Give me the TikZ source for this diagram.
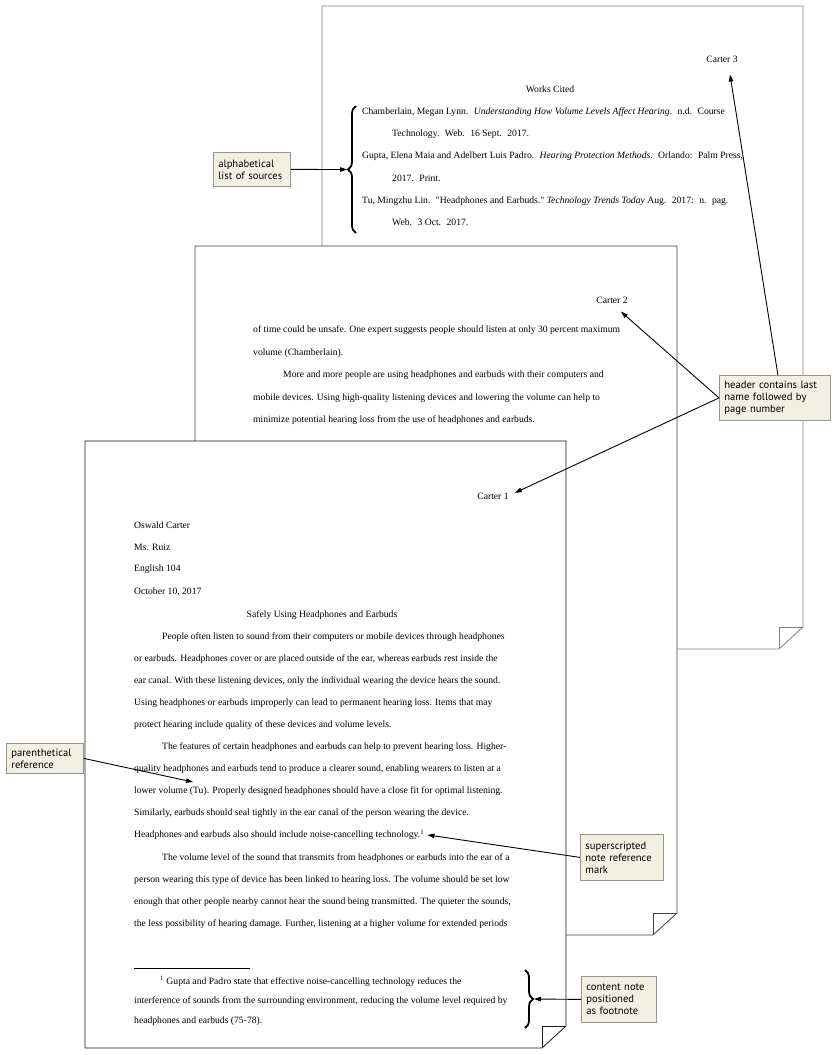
\documentclass[tikz,border=0pt]{standalone}
\usepackage{fontspec}
\setmainfont{Liberation Serif}
\newfontfamily\notefont{PT Sans}
\usetikzlibrary{arrows.meta,decorations.pathreplacing}
\definecolor{notefill}{RGB}{242,240,226}
\definecolor{noteline}{RGB}{150,150,138}
\newcommand{\docsheet}[5]{%
  \filldraw[fill=white,draw=#5,line width=0.8pt] (#1,#2) -- (#3,#2) -- (#3,#4-22) -- (#3-24,#4) -- (#1,#4) -- cycle;
  \draw[#5,line width=0.8pt] (#3,#4-22) -- (#3-24,#4-22) -- (#3-24,#4);}

\begin{document}
\begin{tikzpicture}[x=1pt,y=-1pt,
  txt/.style={font=\fontsize{9.65}{11}\selectfont,anchor=mid west,inner sep=0pt},
  entry/.style={txt,execute at begin node={\xspaceskip=5.5pt\relax}},
  note/.style={draw=noteline,fill=notefill,line width=0.8pt,anchor=north west,align=left,
    font=\notefont\fontsize{10.6}{12}\selectfont,inner xsep=5pt,inner ysep=0pt},
  arr/.style={-{Triangle[length=7pt,width=4.5pt]},line width=0.9pt},
  curly/.style={decorate,decoration={brace,amplitude=8pt},line width=1.8pt}]
\useasboundingbox (0,0) rectangle (835,1055);

\docsheet{322}{6}{803}{649}{gray}
\node[txt,anchor=mid] (c3) at (722,60) {Carter 3};
\node[txt,anchor=mid] (wc) at (550,90) {Works Cited};
\foreach \x/\t [count=\i from 0] in {
  362/{Chamberlain, Megan Lynn. \textit{Understanding How Volume Levels Affect Hearing}. n.d. Course},
  392/{Technology. Web. 16 Sept. 2017.},
  362/{Gupta, Elena Maia and Adelbert Luis Padro. \textit{Hearing Protection Methods}. Orlando: Palm Press,},
  392/{2017. Print.},
  362/{Tu, Mingzhu Lin. \textquotedbl Headphones and Earbuds.\textquotedbl\ \textit{Technology Trends Today} Aug. 2017: n. pag.},
  392/{Web. 3 Oct. 2017.}}
  \node[entry] (w\i) at (\x,112.3+22.2*\i) {\t};
\draw[curly] (356,233) -- (356,106);
\coordinate (tipw) at (347,169.5);

\docsheet{195}{246}{677}{935}{black!75}
\node[txt,anchor=mid] (c2) at (612,301) {Carter 2};
\foreach \x/\t [count=\i from 0] in {
  253/{of time could be unsafe. One expert suggests people should listen at only 30 percent maximum},
  253/{volume (Chamberlain).},
  283/{More and more people are using headphones and earbuds with their computers and},
  253/{mobile devices. Using high-quality listening devices and lowering the volume can help to},
  253/{minimize potential hearing loss from the use of headphones and earbuds.}}
  \node[txt] (p\i) at (\x,330.5+22.4*\i) {\t};

\docsheet{85}{441}{566}{1048}{black!90}
\node[txt,anchor=mid] (c1) at (493,496.7) {Carter 1};
\node[txt] (h0) at (134,526) {Oswald Carter};
\node[txt] (h1) at (134,547.7) {Ms. Ruiz};
\node[txt] (h2) at (134,569.3) {English 104};
\node[txt] (h3) at (134,591.7) {October 10, 2017};
\node[txt,anchor=mid] (ttl) at (322,615) {Safely Using Headphones and Earbuds};
\foreach \x/\t [count=\i from 0] in {
  162/{People often listen to sound from their computers or mobile devices through headphones},
  134/{or earbuds. Headphones cover or are placed outside of the ear, whereas earbuds rest inside the},
  134/{ear canal. With these listening devices, only the individual wearing the device hears the sound.},
  134/{Using headphones or earbuds improperly can lead to permanent hearing loss. Items that may},
  134/{protect hearing include quality of these devices and volume levels.},
  162/{The features of certain headphones and earbuds can help to prevent hearing loss. Higher-},
  134/{quality headphones and earbuds tend to produce a clearer sound, enabling wearers to listen at a},
  134/{lower volume (Tu). Properly designed headphones should have a close fit for optimal listening.},
  134/{Similarly, earbuds should seal tightly in the ear canal of the person wearing the device.},
  134/{Headphones and earbuds also should include noise-cancelling technology.\textsuperscript{1}},
  162/{The volume level of the sound that transmits from headphones or earbuds into the ear of a},
  134/{person wearing this type of device has been linked to hearing loss. The volume should be set low},
  134/{enough that other people nearby cannot hear the sound being transmitted. The quieter the sounds,},
  134/{the less possibility of hearing damage. Further, listening at a higher volume for extended periods}}
  \node[txt] (b\i) at (\x,636.7+22.1*\i) {\t};
\draw[line width=0.5pt] (134,968.3) -- (250,968.3);
\node[txt] (f0) at (160,982) {\textsuperscript{1} Gupta and Padro state that effective noise-cancelling technology reduces the};
\node[txt] (f1) at (134,1001.5) {interference of sounds from the surrounding environment, reducing the volume level required by};
\node[txt] (f2) at (134,1021) {headphones and earbuds (75-78).};
\draw[curly] (525,970) -- (525,1028);
\coordinate (tipf) at (534,999);
\coordinate (tipu) at (193,782);

\node[note,text width=67pt,minimum height=34pt] (src) at (213,152) {alphabetical\\list of sources};
\node[note,text width=101pt,minimum height=45pt] (hdr) at (719,375) {header contains last\\name followed by\\page number};
\node[note,text width=67pt,minimum height=30pt] (par) at (6,743) {parenthetical\\reference};
\node[note,text width=73pt,minimum height=46pt] (sup) at (580,834) {superscripted\\note reference\\mark};
\node[note,text width=65pt,minimum height=46pt] (cnt) at (581,976) {content note\\positioned\\as footnote};

\draw[arr] (src.east) -- (tipw);
\draw[arr] ([xshift=3pt]hdr.north) -- ([shift={(8pt,-12pt)}]c3.south);
\draw[arr] (hdr.west) -- ([shift={(-7pt,-8pt)}]c2.south east);
\draw[arr] (hdr.west) -- ([shift={(6pt,3pt)}]c1.east);
\draw[arr] (par.east) -- (tipu);
\draw[arr] (sup.west) -- ([xshift=3pt]b9.east);
\draw[arr] (cnt.west) -- (tipf);
\end{tikzpicture}
\end{document}
